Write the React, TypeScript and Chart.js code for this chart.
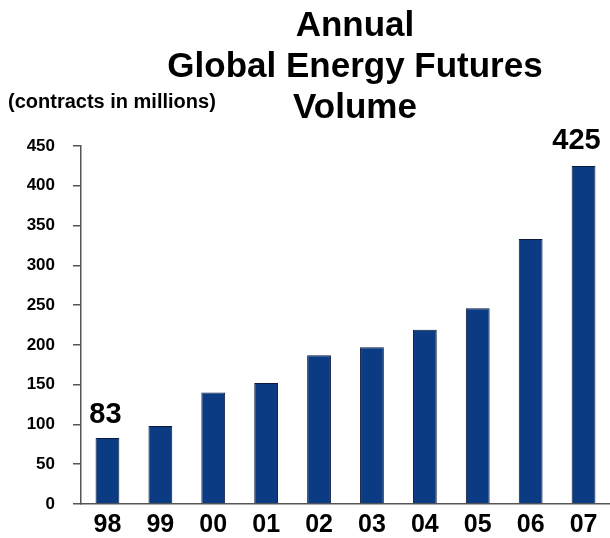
import React, { useEffect, useRef } from "react";
import { Chart, registerables } from "chart.js";

Chart.register(...registerables);

const years = ["98", "99", "00", "01", "02", "03", "04", "05", "06", "07"];
const volumes = [83, 98, 140, 152, 187, 197, 219, 246, 333, 425];
const yMin = 0;
const yMax = 450;
const yStep = 50;
const titleLines = ["Annual", "Global Energy Futures", "Volume"];
const unitLabel = "(contracts in millions)";
const labeledBars = [0, 9];

const FONT = '"Liberation Sans", Arial, Helvetica, sans-serif';

const annotations = {
  id: "annotations",
  afterDatasetsDraw(chart: any) {
    const ctx = chart.ctx as CanvasRenderingContext2D;
    ctx.save();
    ctx.fillStyle = "#000";
    ctx.textBaseline = "alphabetic";
    ctx.textAlign = "center";
    ctx.font = `bold 35px ${FONT}`;
    titleLines.forEach((t, i) => ctx.fillText(t, 355, 36 + i * 41));
    ctx.textAlign = "left";
    ctx.font = `bold 20px ${FONT}`;
    ctx.fillText(unitLabel, 8, 108);
    const meta = chart.getDatasetMeta(0);
    ctx.font = `bold 29px ${FONT}`;
    ctx.textAlign = "center";
    labeledBars.forEach((idx) => {
      const bar = meta.data[idx];
      if (!bar) return;
      const last = idx === volumes.length - 1;
      ctx.fillText(String(volumes[idx]), bar.x + (last ? -7 : -2), bar.y - (last ? 17 : 15));
    });
    ctx.restore();
  },
};

export default function App() {
  const ref = useRef<HTMLCanvasElement | null>(null);
  useEffect(() => {
    if (!ref.current) return;
    const chart = new Chart(ref.current, {
      type: "bar",
      data: {
        labels: years,
        datasets: [
          {
            data: volumes,
            backgroundColor: "#0b3b82",
            borderColor: "#0a1a3a",
            borderWidth: 1,
            categoryPercentage: 1,
            barPercentage: 0.45,
          },
        ],
      },
      options: {
        animation: false,
        responsive: false,
        maintainAspectRatio: false,
        layout: { padding: { top: 146, right: -6, left: 0, bottom: 0 } },
        plugins: {
          legend: { display: false },
          tooltip: { enabled: false },
          title: { display: false },
        },
        scales: {
          x: {
            type: "category",
            offset: true,
            grid: { display: true, drawOnChartArea: false, drawTicks: false, color: "#555" },
            border: { display: true, color: "#555", width: 1.5 },
            ticks: {
              color: "#000",
              font: { family: FONT, size: 25, weight: "bold" },
              padding: 6,
              maxRotation: 0,
              autoSkip: false,
            },
            afterFit(scale: any) {
              scale.height = 34;
            },
          },
          y: {
            min: yMin,
            max: yMax,
            grid: {
              display: true,
              drawOnChartArea: false,
              drawTicks: true,
              tickLength: 8,
              color: "#555",
              lineWidth: 1.5,
            },
            border: { display: true, color: "#555", width: 1.5 },
            ticks: {
              stepSize: yStep,
              color: "#000",
              font: { family: FONT, size: 17, weight: "bold" },
              padding: 18,
            },
            afterFit(scale: any) {
              scale.width = 81;
            },
          },
        },
      },
      plugins: [annotations],
    });
    return () => chart.destroy();
  }, []);
  return (
    <div style={{ position: "absolute", left: 0, top: 0, width: 610, height: 538, background: "#fff" }}>
      <canvas ref={ref} width={610} height={538} style={{ display: "block" }} />
    </div>
  );
}
